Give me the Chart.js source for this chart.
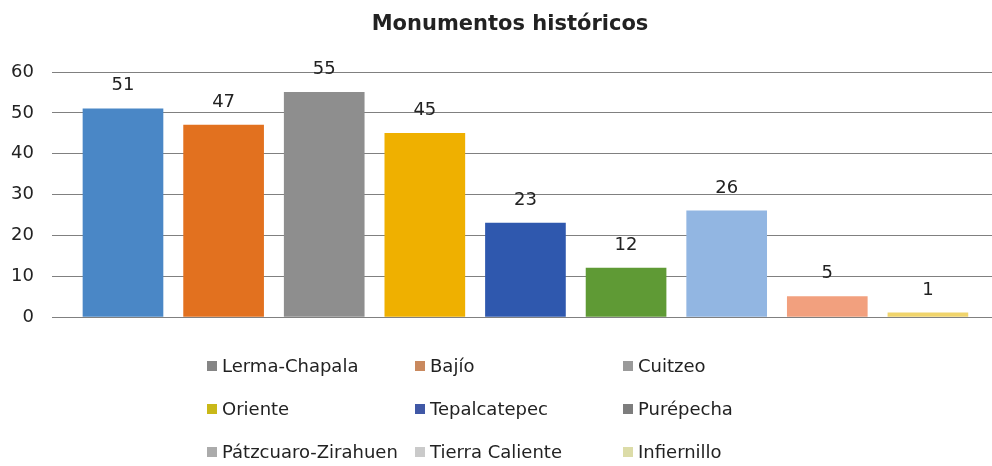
<!DOCTYPE html>
<html>
<head>
<meta charset="utf-8">
<script src="https://cdn.jsdelivr.net/npm/chart.js@4/dist/chart.umd.min.js"></script>
<style>
  html, body { margin: 0; padding: 0; background: #fff; }
  #wrap { width: 992px; height: 466px; }
</style>
</head>
<body>
<div id="wrap"><canvas id="chart" width="992" height="466"></canvas></div>
<script>
// datos
const chartTitle = 'Monumentos históricos';
const regiones = ['Lerma-Chapala', 'Bajío', 'Cuitzeo', 'Oriente', 'Tepalcatepec', 'Purépecha',
                  'Pátzcuaro-Zirahuen', 'Tierra Caliente', 'Infiernillo'];
const monumentos = [51, 47, 55, 45, 23, 12, 26, 5, 1];
const yTicks = [0, 10, 20, 30, 40, 50, 60];

const barColors = ['#4a87c6', '#e2711f', '#8e8e8e', '#efb000', '#2f58ae',
                   '#5f9a35', '#92b6e2', '#f2a07e', '#f0d46c'];
// los marcadores de la leyenda salen apagados en la imagen
const legendColors = ['#858585', '#c9895e', '#9a9a9a', '#c9b818', '#4058a6',
                      '#7d7d7d', '#ababab', '#cacaca', '#dcdca8'];

const FONT = '"DejaVu Sans", sans-serif';
const TXT = '#222';

// etiquetas de valor, título y leyenda en 3 columnas
const extras = {
  id: 'extras',
  afterDatasetsDraw(chart) {
    const ctx = chart.ctx;
    ctx.save();
    ctx.fillStyle = TXT;
    ctx.font = '18px ' + FONT;
    ctx.textAlign = 'center';
    ctx.textBaseline = 'middle';
    chart.data.datasets.forEach((ds, i) => {
      const bar = chart.getDatasetMeta(i).data[0];
      ctx.fillText(String(ds.data[0].y), bar.x, bar.y - 23);
    });
    ctx.restore();
  },
  afterDraw(chart) {
    const ctx = chart.ctx;
    ctx.save();
    ctx.fillStyle = TXT;
    ctx.font = 'bold 21px ' + FONT;
    ctx.textAlign = 'center';
    ctx.textBaseline = 'middle';
    ctx.fillText(chartTitle, 510, 25);

    const colX = [207, 415, 623];
    const rowY = [366, 409, 452];
    ctx.font = '18px ' + FONT;
    ctx.textAlign = 'left';
    regiones.forEach((name, i) => {
      const x = colX[i % 3], y = rowY[Math.floor(i / 3)];
      ctx.fillStyle = legendColors[i];
      ctx.fillRect(x, y - 5, 10, 10);
      ctx.fillStyle = TXT;
      ctx.fillText(name, x + 15, y + 1);
    });
    ctx.restore();
  }
};

new Chart(document.getElementById('chart'), {
  type: 'bar',
  data: {
    datasets: regiones.map((r, i) => ({
      label: r,
      data: [{ x: i, y: monumentos[i] }],
      backgroundColor: barColors[i],
      borderWidth: 0
    }))
  },
  options: {
    responsive: false,
    animation: false,
    grouped: false,
    barThickness: 80,
    layout: { padding: { top: 72, bottom: 149, left: -7, right: 0 } },
    plugins: {
      legend: { display: false },
      title: { display: false },
      tooltip: { enabled: false }
    },
    scales: {
      x: { type: 'linear', display: false, offset: false, min: -0.7065, max: 8.637 },
      y: {
        min: 0,
        max: 60,
        afterBuildTicks: (scale) => { scale.ticks = yTicks.map(v => ({ value: v })); },
        border: { display: false },
        grid: { color: '#808080', lineWidth: 1, drawTicks: false },
        ticks: { color: TXT, font: { family: FONT, size: 18 }, padding: 18 }
      }
    }
  },
  plugins: [extras]
});
</script>
</body>
</html>
